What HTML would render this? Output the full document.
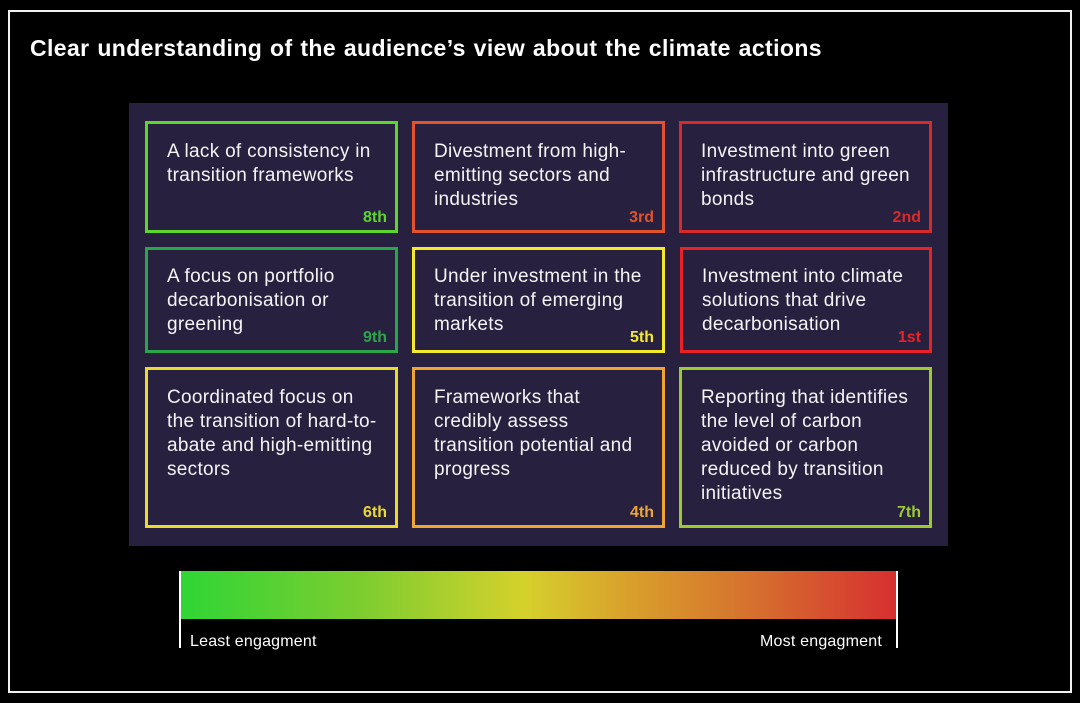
<!DOCTYPE html>
<html><head><meta charset="utf-8"><style>
*{margin:0;padding:0;box-sizing:border-box}
body{width:1080px;height:703px;background:#000;position:relative;overflow:hidden;font-family:"Liberation Sans",sans-serif;color:#fff}
.frame{position:absolute;left:8px;top:10px;width:1064px;height:683px;border:2px solid #f2f2f2}
h1{position:absolute;left:30px;top:35px;font-size:23px;font-weight:bold;letter-spacing:0.4px;word-spacing:1px}
.panel{position:absolute;left:129px;top:103px;width:819px;height:443px;background:#27203f}
.b{position:absolute;border:3px solid;padding:16px 0 0 19px;font-size:19px;line-height:24px;letter-spacing:0.3px;color:#f4f4f4;white-space:nowrap}
.r{position:absolute;right:8px;bottom:3px;font-size:16px;font-weight:bold;line-height:18px;letter-spacing:0}
.bar{position:absolute;left:180px;top:571px;width:717px;height:48px;background:linear-gradient(to right,#2fd536,#7ccd30 25%,#d5d12c 48%,#d9a22c 62%,#d56a2e 82%,#d72f30)}
.t{position:absolute;top:571px;width:2px;height:77px;background:#fff}
.lbl{position:absolute;top:633px;font-size:16px;letter-spacing:0.2px}
</style></head><body>
<div class="frame"></div>
<h1>Clear understanding of the audience’s view about the climate actions</h1>
<div class="panel"></div>
<div class="b" style="left:145px;top:121px;width:253px;height:112px;border-color:#5cd62c">A lack of consistency in<br>transition frameworks<span class="r" style="color:#5cd62c">8th</span></div>
<div class="b" style="left:412px;top:121px;width:253px;height:112px;border-color:#e0532b">Divestment from high-<br>emitting sectors and<br>industries<span class="r" style="color:#e0532b">3rd</span></div>
<div class="b" style="left:679px;top:121px;width:253px;height:112px;border-color:#d82a2a">Investment into green<br>infrastructure and green<br>bonds<span class="r" style="color:#d82a2a">2nd</span></div>
<div class="b" style="left:145px;top:247px;width:253px;height:106px;border-color:#2aa64a;padding-top:15px">A focus on portfolio<br>decarbonisation or<br>greening<span class="r" style="color:#2aa64a">9th</span></div>
<div class="b" style="left:412px;top:247px;width:253px;height:106px;border-color:#f4e92a;padding-top:15px">Under investment in the<br>transition of emerging<br>markets<span class="r" style="color:#f4e92a">5th</span></div>
<div class="b" style="left:680px;top:247px;width:252px;height:106px;border-color:#ea2228;padding:15px 0 0 19px">Investment into climate<br>solutions that drive<br>decarbonisation<span class="r" style="color:#ea2228">1st</span></div>
<div class="b" style="left:145px;top:367px;width:253px;height:161px;border-color:#ead932">Coordinated focus on<br>the transition of hard-to-<br>abate and high-emitting<br>sectors<span class="r" style="color:#ead932">6th</span></div>
<div class="b" style="left:412px;top:367px;width:253px;height:161px;border-color:#f0a433">Frameworks that<br>credibly assess<br>transition potential and<br>progress<span class="r" style="color:#f0a433">4th</span></div>
<div class="b" style="left:679px;top:367px;width:253px;height:161px;border-color:#9ccb2f">Reporting that identifies<br>the level of carbon<br>avoided or carbon<br>reduced by transition<br>initiatives<span class="r" style="color:#9ccb2f">7th</span></div>
<div class="bar"></div>
<div class="t" style="left:179px"></div>
<div class="t" style="left:896px"></div>
<div class="lbl" style="left:190px">Least engagment</div>
<div class="lbl" style="left:760px">Most engagment</div>
</body></html>
